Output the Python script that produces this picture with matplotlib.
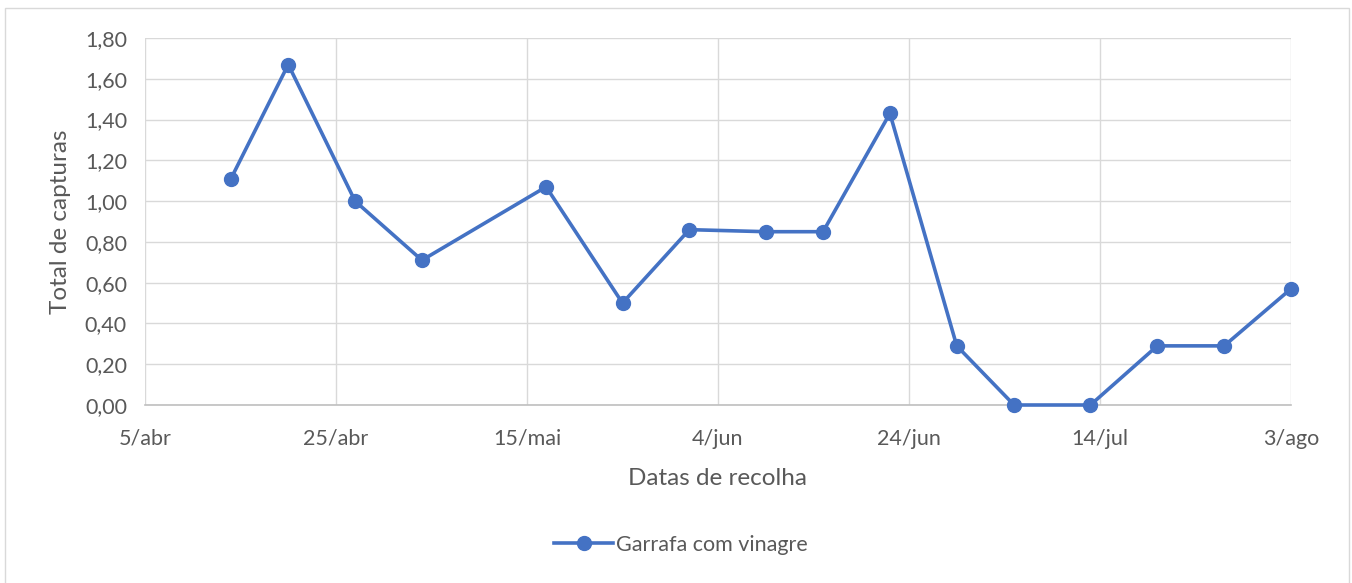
import pandas as pd
import matplotlib
matplotlib.use("Agg")
import matplotlib.pyplot as plt
from matplotlib.patches import Rectangle
from matplotlib.ticker import FuncFormatter, FixedLocator
import matplotlib.dates as mdates

# Datas de recolha (dia/mês) e capturas médias
datas = ["14/04", "20/04", "27/04", "04/05", "17/05", "25/05", "01/06", "09/06",
         "15/06", "22/06", "29/06", "05/07", "13/07", "20/07", "27/07", "03/08"]
capturas = [1.11, 1.67, 1.00, 0.71, 1.07, 0.50, 0.86, 0.85,
            0.85, 1.43, 0.29, 0.00, 0.00, 0.29, 0.29, 0.57]
serie = "Garrafa com vinagre"
meses = ["jan", "fev", "mar", "abr", "mai", "jun", "jul", "ago", "set", "out", "nov", "dez"]

x = pd.to_datetime([d + "/2019" for d in datas], format="%d/%m/%Y")
ticks = pd.date_range("2019-04-05", "2019-08-03", freq="20D")

plt.rcParams["font.family"] = ["Lato", "DejaVu Sans"]
txt = "#595959"
blue = "#4472C4"
grid = "#D9D9D9"

fig = plt.figure(figsize=(13.52, 5.83), dpi=100)
fig.patches.append(Rectangle((5 / 1352, -0.01), 1344 / 1352, 1 - 8 / 583 + 0.01,
                             transform=fig.transFigure, fill=False,
                             edgecolor="#D9D9D9", linewidth=1))
ax = fig.add_axes([145 / 1352, 178 / 583, 1146 / 1352, 367 / 583])

ax.plot(x, capturas, color=blue, linewidth=2.6, marker="o", markersize=10,
        label=serie, zorder=3, clip_on=False)

ax.set_xlim(ticks[0], ticks[-1])
ax.set_ylim(0, 1.8)
ax.xaxis.set_major_locator(FixedLocator(mdates.date2num(ticks)))
ax.xaxis.set_major_formatter(FuncFormatter(
    lambda v, _: f"{mdates.num2date(v).day}/{meses[mdates.num2date(v).month - 1]}"))
ax.yaxis.set_major_locator(FixedLocator([i * 0.2 for i in range(10)]))
ax.yaxis.set_major_formatter(FuncFormatter(lambda y, _: f"{y:.2f}".replace(".", ",")))

ax.grid(True, color=grid, linewidth=1)
ax.set_axisbelow(True)
for s in ["top", "right", "left"]:
    ax.spines[s].set_visible(False)
ax.spines["bottom"].set_color("#BFBFBF")
ax.spines["bottom"].set_linewidth(1.2)
ax.tick_params(length=0, labelsize=15.5, labelcolor=txt)
ax.tick_params(axis="x", pad=17)
ax.tick_params(axis="y", pad=13)

ax.set_xlabel("Datas de recolha", fontsize=17.5, color=txt, labelpad=14)
ax.set_ylabel("Total de capturas", fontsize=17.5, color=txt, labelpad=10)

leg = fig.legend(loc="center", bbox_to_anchor=(681 / 1352, 1 - 545 / 583),
                 frameon=False, fontsize=15.5, handlelength=2.7, handletextpad=0.15)
for t in leg.get_texts():
    t.set_color(txt)

fig.savefig("out.png", dpi=100)
plt.close(fig)
